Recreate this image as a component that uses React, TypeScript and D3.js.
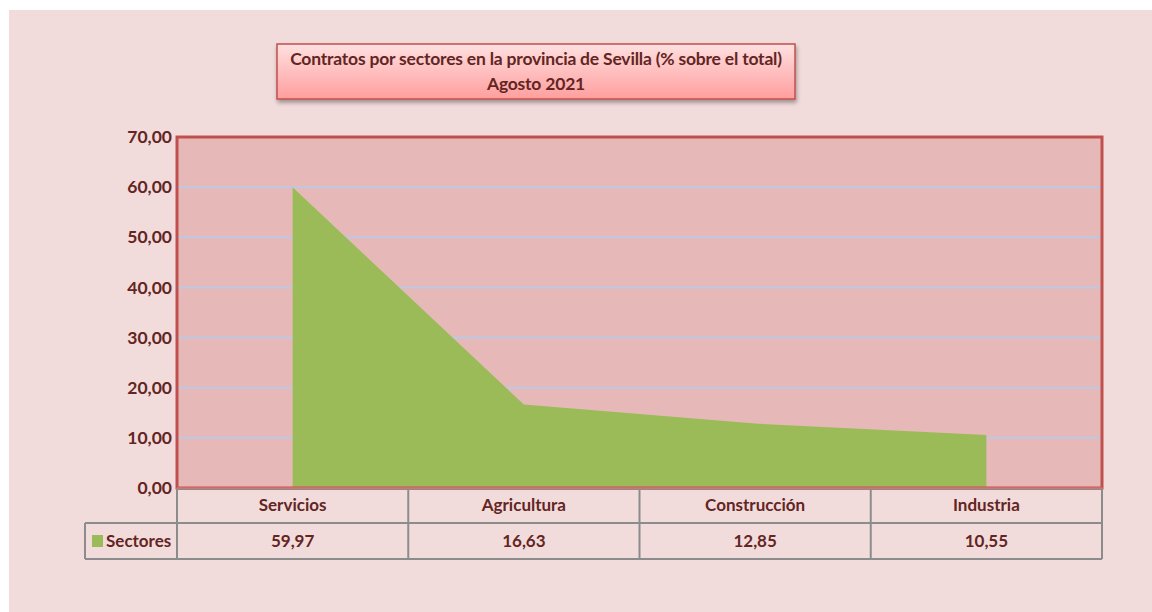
import React from "react";
import * as d3 from "d3";

const categories = ["Servicios", "Agricultura", "Construcción", "Industria"];
const values = [59.97, 16.63, 12.85, 10.55];
const yTicks = [0, 10, 20, 30, 40, 50, 60, 70];
const seriesName = "Sectores";
const titleLines = ["Contratos por sectores en la provincia de Sevilla (% sobre el total)", "Agosto 2021"];

const fmt = (v: number) => v.toFixed(2).replace(".", ",");

export default function App() {
  const W = 1143, H = 602;
  const ox = -9, oy = -10; // coordinates below are page coordinates
  const left = 177, right = 1102, top = 137, bottom = 488;
  const x = d3.scaleBand<string>().domain(categories).range([left, right]);
  const y = d3.scaleLinear().domain([0, 70]).range([bottom, top]);
  const cx = (c: string) => (x(c) as number) + x.bandwidth() / 2;
  const area = d3
    .area<number>()
    .x((_, i) => cx(categories[i]))
    .y0(y(0))
    .y1((d) => y(d));
  const row1 = 523, row2 = 559;
  const font = "Lato, 'Open Sans', sans-serif";
  const txt = "#632523";
  return (
    <svg
      width={W}
      height={H}
      style={{ position: "absolute", left: 9, top: 10, display: "block" }}
      fontFamily={font}
    >
      <defs>
        <linearGradient id="tg" x1="0" y1="0" x2="0" y2="1">
          <stop offset="0" stopColor="#FFE0E0" />
          <stop offset="1" stopColor="#FF9E9E" />
        </linearGradient>
        <filter id="sh" x="-5%" y="-20%" width="110%" height="150%">
          <feDropShadow dx="1" dy="3" stdDeviation="2" floodColor="#000" floodOpacity="0.35" />
        </filter>
      </defs>
      <g transform={`translate(${ox},${oy})`}>
        <rect x={9} y={10} width={W} height={H} fill="#F2DCDB" />
        {/* plot area */}
        <rect x={left} y={top} width={right - left} height={bottom - top} fill="#E6B9B8" />
        {yTicks.filter((t) => t > 0 && t < 70).map((t) => (
          <line key={t} x1={left} x2={right} y1={y(t)} y2={y(t)} stroke="#BCC8E4" strokeWidth={2} />
        ))}
        <path d={area(values) as string} fill="#9BBB59" />
        <rect x={left} y={top} width={right - left} height={bottom - top} fill="none" stroke="#C0504D" strokeWidth={3} />
        {/* y labels */}
        {yTicks.map((t) => (
          <text key={t} x={172} y={y(t)} dy="0.35em" textAnchor="end" fontSize={17.5} fontWeight="bold" fill={txt}>
            {fmt(t)}
          </text>
        ))}
        {/* table */}
        <g stroke="#8C8C8C" strokeWidth={2} fill="none">
          <line x1={left} x2={right} y1={bottom + 1} y2={bottom + 1} />
          <line x1={85} x2={right} y1={row1} y2={row1} />
          <line x1={85} x2={right} y1={row2} y2={row2} />
          <line x1={85} x2={85} y1={row1} y2={row2} />
          <line x1={left} x2={left} y1={bottom} y2={row2} />
          {categories.map((c) => (
            <line key={c} x1={(x(c) as number) + x.bandwidth()} x2={(x(c) as number) + x.bandwidth()} y1={bottom} y2={row2} />
          ))}
        </g>
        <line x1={left} x2={right} y1={bottom} y2={bottom} stroke="#E07070" strokeWidth={1.5} />
        {categories.map((c, i) => (
          <g key={c}>
            <text x={cx(c)} y={(bottom + row1) / 2} dy="0.35em" textAnchor="middle" fontSize={17} fontWeight="bold" fill={txt}>
              {c}
            </text>
            <text x={cx(c)} y={(row1 + row2) / 2} dy="0.35em" textAnchor="middle" fontSize={17} fontWeight="bold" fill={txt}>
              {fmt(values[i])}
            </text>
          </g>
        ))}
        <rect x={92} y={535} width={11} height={12} fill="#9BBB59" />
        <text x={106} y={(row1 + row2) / 2} dy="0.35em" fontSize={17} fontWeight="bold" fill={txt}>
          {seriesName}
        </text>
        {/* title */}
        <rect x={277} y={44} width={518} height={55} fill="url(#tg)" stroke="#C0504D" strokeWidth={1.5} filter="url(#sh)" />
        {titleLines.map((l, i) => (
          <text key={i} x={536} y={59 + i * 25} dy="0.35em" textAnchor="middle" fontSize={17.5} fontWeight="bold" fill={txt} letterSpacing={-0.2}>
            {l}
          </text>
        ))}
      </g>
    </svg>
  );
}
